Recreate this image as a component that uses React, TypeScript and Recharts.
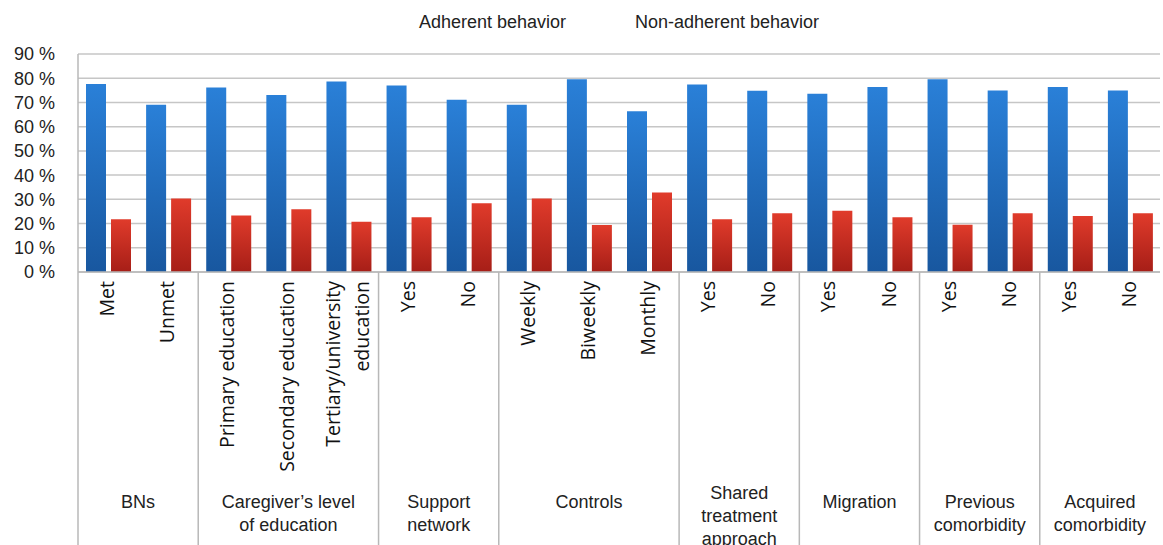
import { BarChart, Bar, XAxis, YAxis, CartesianGrid, Legend } from 'recharts'

// tick labels on the x axis, one per bar pair
const categories = [
  'Met', 'Unmet',
  'Primary education', 'Secondary education', 'Tertiary/university\neducation',
  'Yes', 'No',
  'Weekly', 'Biweekly', 'Monthly',
  'Yes', 'No',
  'Yes', 'No',
  'Yes', 'No',
  'Yes', 'No',
]

// variable groups under the tick labels
const groupNames = [
  'BNs', 'Caregiver’s level\nof education', 'Support\nnetwork', 'Controls',
  'Shared\ntreatment\napproach', 'Migration', 'Previous\ncomorbidity', 'Acquired\ncomorbidity',
]
const groupSizes = [2, 3, 2, 3, 2, 2, 2, 2]

const adherent = [77.6, 69.0, 76.2, 73.1, 78.6, 77.0, 71.1, 69.0, 79.6, 66.4, 77.4, 74.8, 73.6, 76.4, 79.6, 74.9, 76.4, 74.9]
const nonAdherent = [21.8, 30.3, 23.3, 25.9, 20.7, 22.6, 28.4, 30.3, 19.4, 32.8, 21.8, 24.3, 25.3, 22.6, 19.5, 24.3, 23.1, 24.3]

const yTicks = [0, 10, 20, 30, 40, 50, 60, 70, 80, 90]

const data = categories.map((name, i) => ({
  id: i,
  name,
  adherent: adherent[i],
  nonAdherent: nonAdherent[i],
}))

const groupStarts = groupSizes.map((_, g) => groupSizes.slice(0, g).reduce((a, b) => a + b, 0))

const W = 1163
const H = 545
const MARGIN = { top: 54, right: 3, bottom: 0, left: 0 }
const Y_WIDTH = 78
const BAND = (W - MARGIN.left - MARGIN.right - Y_WIDTH) / categories.length

const FONT = '"Liberation Sans", Arial, sans-serif'
const TICK_FONT = '"Open Sans", sans-serif'
const TEXT = '#222'
const LINE = '#b8b8b8'

function CategoryTick(props: any) {
  const { x, y, payload } = props
  const i = payload.index
  const lines = categories[i].split('\n')
  const g = groupStarts.indexOf(i)
  const lineH = 29
  return (
    <g>
      <text
        x={x}
        y={y + 9}
        transform={`rotate(-90, ${x}, ${y + 9})`}
        textAnchor="end"
        fontFamily={TICK_FONT}
        fontSize={19.5}
        fill="#111"
      >
        {lines.map((l, k) => (
          <tspan key={k} x={x} dy={k === 0 ? 6 - ((lines.length - 1) * lineH) / 2 : lineH}>
            {l}
          </tspan>
        ))}
      </text>
      {g >= 0 && (
        <GroupMark left={x - BAND / 2} top={y} size={groupSizes[g]} name={groupNames[g]} />
      )}
    </g>
  )
}

function GroupMark({ left, top, size, name }: { left: number; top: number; size: number; name: string }) {
  const lines = name.split('\n')
  const cx = left + (size * BAND) / 2
  const first = lines.length > 2 ? 499 : 508
  return (
    <g>
      <line x1={left} x2={left} y1={top} y2={H} stroke={LINE} strokeWidth={1.5} />
      <text x={cx} y={first} textAnchor="middle" fontFamily={FONT} fontSize={18} fill={TEXT}>
        {lines.map((l, k) => (
          <tspan key={k} x={cx} dy={k === 0 ? 0 : 23}>
            {l}
          </tspan>
        ))}
      </text>
    </g>
  )
}

function LegendText(props: any) {
  const { payload } = props
  return (
    <div style={{ display: 'flex', justifyContent: 'center', gap: 69, fontFamily: FONT, fontSize: 18, color: TEXT, lineHeight: '20px' }}>
      {(payload || []).map((p: any) => (
        <span key={p.value}>{p.value}</span>
      ))}
    </div>
  )
}

export default function App() {
  return (
    <div style={{ position: 'absolute', left: 0, top: 0, width: W, height: H, background: '#fff' }}>
      <BarChart width={W} height={H} data={data} margin={MARGIN} barSize={20} barGap={5}>
        <defs>
          <linearGradient id="blueFill" x1="0" y1="0" x2="0" y2="1">
            <stop offset="0%" stopColor="#2a80d8" />
            <stop offset="100%" stopColor="#18579f" />
          </linearGradient>
          <linearGradient id="redFill" x1="0" y1="0" x2="0" y2="1">
            <stop offset="0%" stopColor="#e03b2b" />
            <stop offset="100%" stopColor="#a61e17" />
          </linearGradient>
        </defs>
        <CartesianGrid vertical={false} stroke="#c6c6c6" strokeWidth={1.5} />
        <XAxis
          dataKey="id"
          interval={0}
          height={H - 272}
          tickSize={0}
          tickMargin={0}
          axisLine={{ stroke: LINE, strokeWidth: 1.5 }}
          tickLine={false}
          tick={<CategoryTick />}
        />
        <YAxis
          width={Y_WIDTH}
          domain={[0, 90]}
          ticks={yTicks}
          interval={0}
          tickFormatter={(v: number) => `${v} %`}
          tickSize={0}
          tickMargin={23}
          tickLine={false}
          axisLine={{ stroke: LINE, strokeWidth: 1.5 }}
          tick={{ fontFamily: FONT, fontSize: 18, fill: TEXT }}
        />
        <Legend
          layout="horizontal"
          verticalAlign="middle"
          align="center"
          wrapperStyle={{ top: 12, left: 78, width: W - 81 }}
          content={<LegendText />}
        />
        <Bar dataKey="adherent" name="Adherent behavior" fill="url(#blueFill)" isAnimationActive={false} />
        <Bar dataKey="nonAdherent" name="Non-adherent behavior" fill="url(#redFill)" isAnimationActive={false} />
      </BarChart>
    </div>
  )
}
